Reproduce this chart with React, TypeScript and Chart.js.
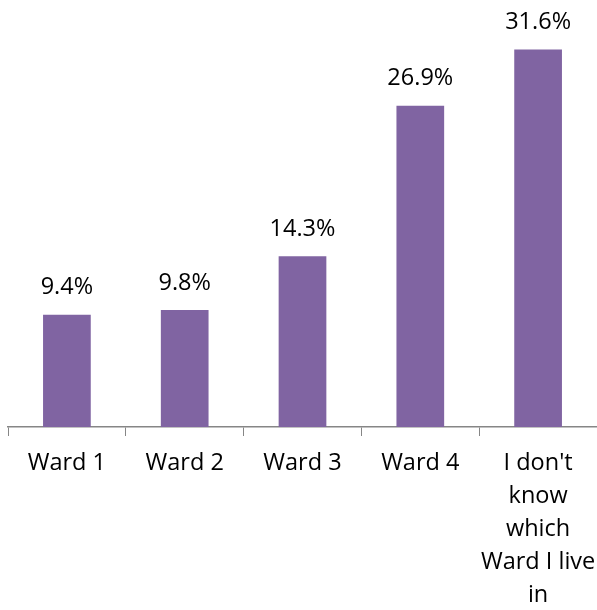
import React, { useEffect, useRef } from "react";
import { Chart, registerables } from "chart.js";

Chart.register(...registerables);

const categories: (string | string[])[] = [
  "Ward 1",
  "Ward 2",
  "Ward 3",
  "Ward 4",
  ["I don't", "know", "which", "Ward I live", "in"],
];
const values: number[] = [9.4, 9.8, 14.3, 26.9, 31.6];
const valueLabels: string[] = ["9.4%", "9.8%", "14.3%", "26.9%", "31.6%"];

const FONT = "'Open Sans', sans-serif";
const FONT_SIZE = 23.5;

const dataLabelPlugin = {
  id: "dataLabels",
  afterDatasetsDraw(chart: any) {
    const ctx = chart.ctx;
    const meta = chart.getDatasetMeta(0);
    ctx.save();
    ctx.font = `${FONT_SIZE}px ${FONT}`;
    ctx.fillStyle = "#000000";
    ctx.textAlign = "center";
    ctx.textBaseline = "middle";
    meta.data.forEach((bar: any, i: number) => {
      ctx.fillText(valueLabels[i], bar.x, bar.y - 27);
    });
    ctx.restore();
  },
};

export default function App() {
  const ref = useRef<HTMLCanvasElement | null>(null);
  useEffect(() => {
    if (!ref.current) return;
    const chart = new Chart(ref.current, {
      type: "bar",
      data: {
        labels: categories as any,
        datasets: [
          {
            data: values,
            backgroundColor: "#8064A2",
            borderWidth: 0,
            barPercentage: 0.405,
            categoryPercentage: 1,
          },
        ],
      },
      options: {
        animation: false,
        responsive: true,
        maintainAspectRatio: false,
        layout: { padding: { left: 8, right: 0, top: 9, bottom: 0 } },
        plugins: { legend: { display: false }, tooltip: { enabled: false } },
        scales: {
          x: {
            grid: {
              display: true,
              drawOnChartArea: false,
              drawTicks: true,
              tickLength: 9,
              color: "#868686",
              offset: true,
            },
            border: { display: true, color: "#868686", width: 1.5 },
            ticks: {
              color: "#000000",
              font: { family: FONT, size: FONT_SIZE, lineHeight: 33 / FONT_SIZE },
              padding: 11,
              maxRotation: 0,
              autoSkip: false,
            },
            afterFit: (scale: any) => {
              scale.height = 183;
              scale.paddingLeft = 0;
              scale.paddingRight = 0;
            },
          },
          y: {
            display: false,
            min: 0,
            max: 35,
          },
        },
      },
      plugins: [dataLabelPlugin],
    });
    return () => chart.destroy();
  }, []);
  return (
    <div style={{ position: "fixed", left: 0, top: 0, width: 597, height: 610 }}>
      <canvas ref={ref} />
    </div>
  );
}
